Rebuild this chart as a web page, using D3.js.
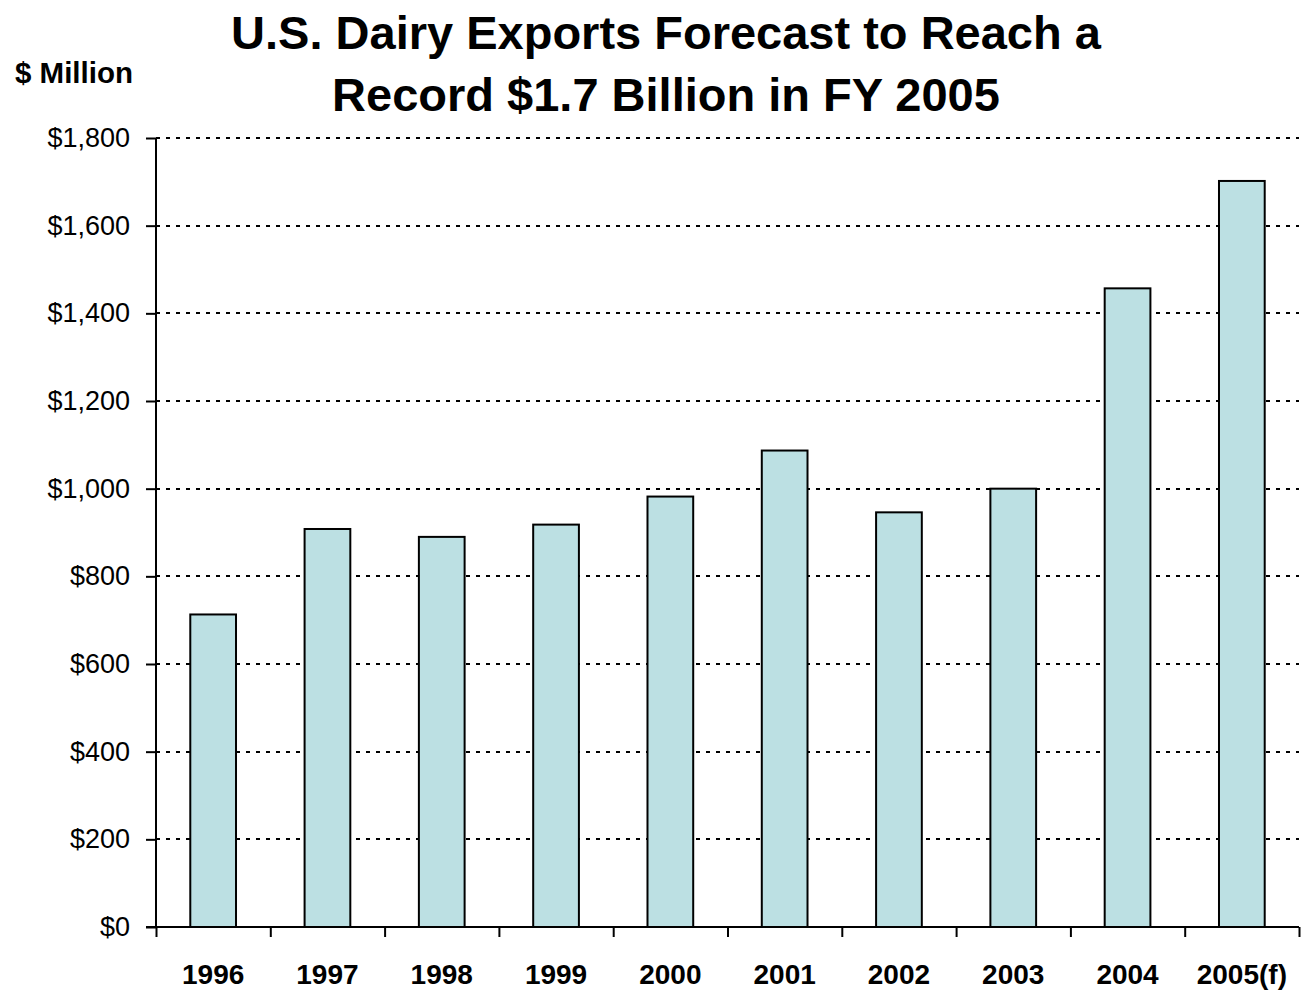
<!DOCTYPE html>
<html>
<head>
<meta charset="utf-8">
<script src="https://cdn.jsdelivr.net/npm/d3@7"></script>
<style>
  html, body { margin: 0; padding: 0; background: #fff; }
  svg { display: block; }
  text { font-family: "Liberation Sans", Arial, Helvetica, sans-serif; fill: #000; }
</style>
</head>
<body>
<svg id="chart" width="1301" height="992"></svg>
<script>
const categories = ["1996", "1997", "1998", "1999", "2000", "2001", "2002", "2003", "2004", "2005(f)"];
const values = [713, 908, 890, 918, 982, 1087, 946, 1000, 1457, 1702];
const yTicks = [0, 200, 400, 600, 800, 1000, 1200, 1400, 1600, 1800];
const titleLines = ["U.S. Dairy Exports Forecast to Reach a", "Record $1.7 Billion in FY 2005"];
const yUnitLabel = "$ Million";

const svg = d3.select("#chart");
const plotLeft = 156, plotRight = 1299, plotTop = 138, plotBottom = 927;

const x = d3.scaleBand().domain(categories).range([plotLeft, plotRight]).paddingInner(0.6).paddingOuter(0.3);
const xEdge = d3.scaleLinear().domain([0, categories.length]).range([plotLeft, plotRight]);
const y = d3.scaleLinear().domain([0, 1800]).range([plotBottom, plotTop]);

// Title
svg.append("text")
  .attr("x", 666).attr("text-anchor", "middle")
  .style("font-size", "47px").style("font-weight", "bold")
  .selectAll("tspan").data(titleLines).join("tspan")
  .attr("x", 666).attr("y", (d, i) => 49 + i * 62)
  .text(d => d);

svg.append("text")
  .attr("x", 15).attr("y", 83)
  .style("font-size", "29.5px").style("font-weight", "bold")
  .text(yUnitLabel);

// Gridlines
svg.append("g")
  .selectAll("line").data(yTicks.filter(d => d > 0)).join("line")
  .attr("x1", plotLeft).attr("x2", plotRight)
  .attr("y1", d => Math.round(y(d))).attr("y2", d => Math.round(y(d)))
  .attr("stroke", "#000").attr("stroke-width", 2)
  .attr("stroke-dasharray", "4,6");

// Bars
svg.append("g")
  .selectAll("rect").data(values).join("rect")
  .attr("x", (d, i) => x(categories[i]))
  .attr("width", x.bandwidth())
  .attr("y", d => y(d))
  .attr("height", d => y(0) - y(d))
  .attr("fill", "#bce0e3")
  .attr("stroke", "#000").attr("stroke-width", 2);

// Y axis
const yAxis = svg.append("g")
  .attr("transform", `translate(${plotLeft},0)`)
  .call(d3.axisLeft(y).tickValues(yTicks).tickSize(10).tickPadding(16)
    .tickFormat(d => "$" + d3.format(",")(d)));
yAxis.select(".domain").attr("stroke-width", 2).attr("d", `M0,${plotTop}V${plotBottom}`);
yAxis.selectAll(".tick line").attr("stroke-width", 2);
yAxis.selectAll(".tick text")
  .style("font-size", "27px")
  .style("font-family", "'Liberation Sans', Arial, sans-serif");

// X axis
const xAxis = svg.append("g")
  .attr("transform", `translate(0,${plotBottom})`)
  .call(d3.axisBottom(xEdge).tickValues(d3.range(0, categories.length + 1)).tickSize(10).tickFormat(""));
xAxis.select(".domain").attr("stroke-width", 2).attr("d", `M${plotLeft - 10},0H${plotRight}`);
xAxis.selectAll(".tick line").attr("stroke-width", 2);

svg.append("g")
  .selectAll("text").data(categories).join("text")
  .attr("x", d => x(d) + x.bandwidth() / 2)
  .attr("y", 984)
  .attr("text-anchor", "middle")
  .style("font-size", "28px").style("font-weight", "bold")
  .text(d => d);
</script>
</body>
</html>
